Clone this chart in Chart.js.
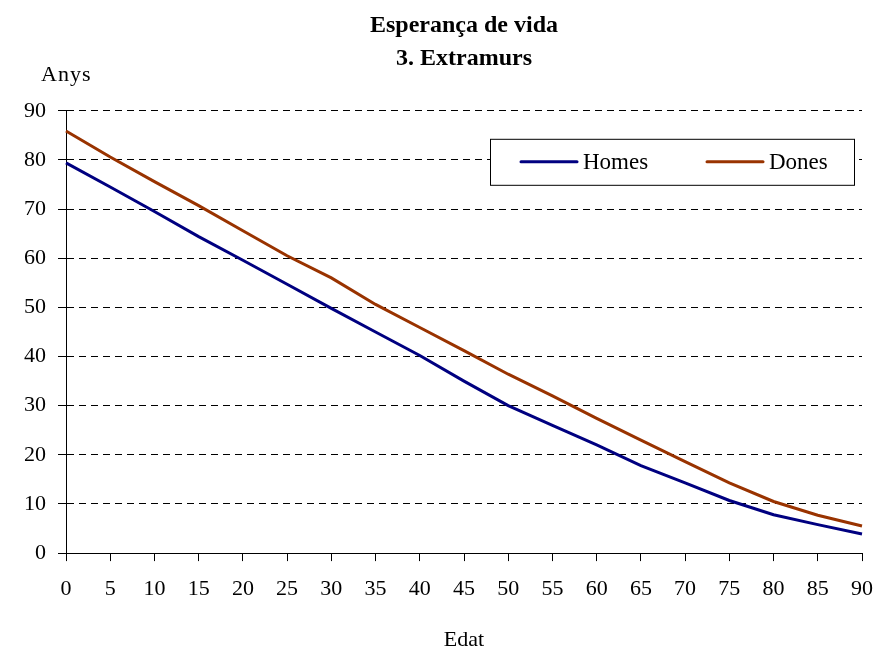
<!DOCTYPE html>
<html>
<head>
<meta charset="utf-8">
<script src="https://cdn.jsdelivr.net/npm/chart.js@4"></script>
<style>
  body { margin: 0; background: #fff; }
  #wrap { width: 888px; height: 648px; }
</style>
</head>
<body>
<div id="wrap"><canvas id="lifeChart"></canvas></div>
<script>
//Chart data
const ages = ["0", "5", "10", "15", "20", "25", "30", "35", "40", "45", "50", "55", "60", "65", "70", "75", "80", "85", "90"];
const homes = [79.4, 74.5, 69.5, 64.4, 59.6, 54.7, 49.8, 45.0, 40.2, 35.0, 30.0, 26.0, 22.0, 17.8, 14.3, 10.7, 7.8, 5.8, 3.9];
const dones = [85.9, 80.6, 75.6, 70.7, 65.6, 60.5, 56.0, 50.6, 45.9, 41.2, 36.4, 32.0, 27.4, 23.0, 18.6, 14.3, 10.5, 7.7, 5.5];

const serif = "'Liberation Serif', 'Times New Roman', serif";

//Draw "Anys" above the y axis and a boxed legend inside the plot
const extrasPlugin = {
    id: "extras",
    afterDraw(chart) {
        const ctx = chart.ctx;
        const area = chart.chartArea;
        ctx.save();
        ctx.fillStyle = "#000";
        ctx.font = "22px " + serif;
        ctx.textBaseline = "alphabetic";
        ctx.textAlign = "left";
        ctx.letterSpacing = "1px";
        ctx.fillText("Anys", area.left - 25, area.top - 30);
        ctx.letterSpacing = "0px";

        //Legend box
        const bx = area.left + 424, by = area.top + 28, bw = 364, bh = 46;
        ctx.fillStyle = "#fff";
        ctx.fillRect(bx, by, bw, bh);
        ctx.strokeStyle = "#000";
        ctx.lineWidth = 1;
        ctx.strokeRect(bx + 0.5, by + 0.5, bw, bh);

        ctx.font = "23px " + serif;
        ctx.textBaseline = "middle";
        const starts = [bx + 31, bx + 217];
        chart.data.datasets.forEach((ds, i) => {
            const sx = starts[i];
            const cy = by + bh / 2;
            ctx.strokeStyle = ds.borderColor;
            ctx.lineWidth = 3;
            ctx.lineCap = "round";
            ctx.beginPath();
            ctx.moveTo(sx, cy);
            ctx.lineTo(sx + 56, cy);
            ctx.stroke();
            ctx.fillStyle = "#000";
            ctx.fillText(ds.label, sx + 62, cy + 1);
        });
        ctx.restore();
    }
};

new Chart(document.getElementById("lifeChart"), {
    type: "line",
    data: {
        labels: ages,
        datasets: [
            {
                label: "Homes",
                data: homes,
                borderColor: "#000080",
                borderWidth: 3,
                pointRadius: 0,
                tension: 0
            },
            {
                label: "Dones",
                data: dones,
                borderColor: "#993300",
                borderWidth: 3,
                pointRadius: 0,
                tension: 0
            }
        ]
    },
    options: {
        responsive: true,
        maintainAspectRatio: false,
        animation: false,
        layout: { padding: { top: 0, left: 12, right: 2, bottom: 0 } },
        plugins: {
            legend: { display: false },
            tooltip: { enabled: false },
            title: {
                display: true,
                fullSize: false,
                text: ["Esperança de vida", "3. Extramurs"],
                color: "#000",
                font: { family: serif, size: 24, weight: "bold", lineHeight: 1.35 },
                padding: { top: 10, bottom: 36 }
            }
        },
        scales: {
            x: {
                offset: false,
                grid: {
                    drawOnChartArea: false,
                    drawTicks: true,
                    tickLength: 8,
                    tickColor: "#000"
                },
                border: { display: true, color: "#000", width: 1 },
                ticks: {
                    color: "#000",
                    font: { family: serif, size: 22 },
                    padding: 15,
                    maxRotation: 0,
                    autoSkip: false
                },
                title: {
                    display: true,
                    text: "Edat",
                    color: "#000",
                    font: { family: serif, size: 22, lineHeight: 0.75 },
                    padding: { top: 14, bottom: 0 }
                }
            },
            y: {
                min: 0,
                max: 90,
                ticks: {
                    stepSize: 10,
                    color: "#000",
                    font: { family: serif, size: 22 },
                    padding: 12
                },
                grid: {
                    color: "#000",
                    lineWidth: 1,
                    drawTicks: true,
                    tickLength: 8,
                    tickColor: "#000"
                },
                border: { display: true, color: "#000", width: 1, dash: [7, 5] }
            }
        }
    },
    plugins: [extrasPlugin]
});
</script>
</body>
</html>
